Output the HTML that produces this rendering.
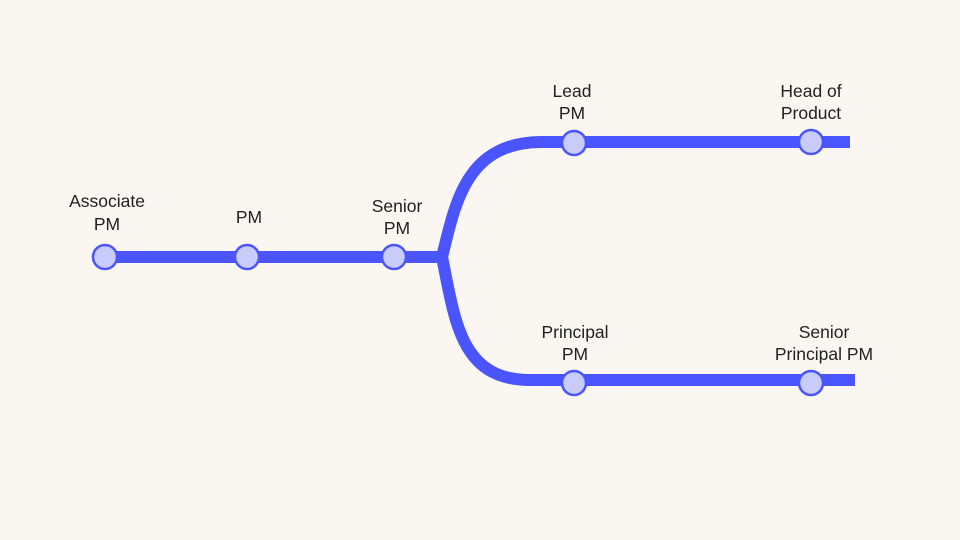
<!DOCTYPE html>
<html><head><style>
html,body{margin:0;padding:0;background:#faf6f1;}
svg{display:block;}
text{font-family:"Liberation Sans",sans-serif;font-size:17.5px;fill:#222;text-anchor:middle;}
</style></head><body>
<svg width="960" height="540" viewBox="0 0 960 540">
<rect width="960" height="540" fill="#faf6f1"/>
<g stroke="#4a55ff" stroke-width="12" fill="none">
<line x1="105" y1="257" x2="444" y2="257"/>
<path d="M442,257 C455,205 465,143 540,142 L850,142"/>
<path d="M442,257 C455,320 460,380 530,380 L855,380"/>
</g>
<g fill="#c8ccfb" stroke="#4a55ff" stroke-width="2.5">
<circle cx="105" cy="257" r="12"/>
<circle cx="247" cy="257" r="12"/>
<circle cx="394" cy="257" r="12"/>
<circle cx="574" cy="143" r="12"/>
<circle cx="811" cy="142" r="12"/>
<circle cx="574" cy="383" r="12"/>
<circle cx="811" cy="383" r="12"/>
</g>
<text x="107" y="207">Associate</text><text x="107" y="230">PM</text>
<text x="249" y="223">PM</text>
<text x="397" y="212">Senior</text><text x="397" y="234">PM</text>
<text x="572" y="97">Lead</text><text x="572" y="119">PM</text>
<text x="811" y="97">Head of</text><text x="811" y="119">Product</text>
<text x="575" y="338">Principal</text><text x="575" y="360">PM</text>
<text x="824" y="338">Senior</text><text x="824" y="360">Principal PM</text>
</svg>
</body></html>
